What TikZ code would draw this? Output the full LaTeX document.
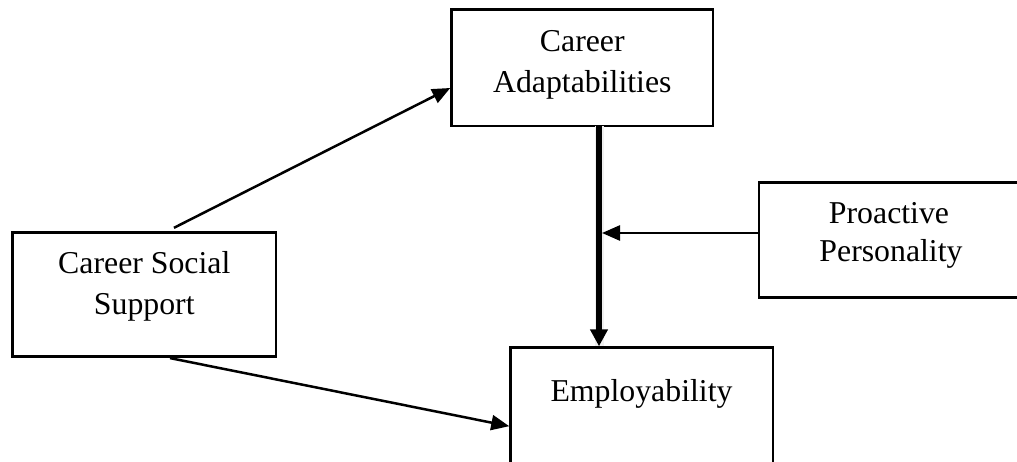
\documentclass[tikz,border=0pt]{standalone}
\usepackage{fontspec}
\setmainfont{Liberation Serif}
\usetikzlibrary{arrows.meta,calc}
\begin{document}
\begin{tikzpicture}[x=1pt,y=-1pt,
  box/.style={draw, line width=2.8pt, rectangle, inner sep=0pt},
  txt/.style={font=\fontsize{31.8}{40}\selectfont, anchor=base, inner sep=0pt},
  arr/.style={line width=2.5pt, -{Triangle[length=18pt,width=15pt]}},
  bigarr/.style={line width=6pt, -{Triangle[length=17pt,width=17pt]}},
  glow/.style={line width=9pt, black!6}]
\useasboundingbox (0,0) rectangle (1017,462);
\fill[white] (0,0) rectangle (1017,462);

% boxes
\node[box, minimum width=261.3pt, minimum height=116.7pt] (ca)  at (582.3,67.6)  {};
\node[box, minimum width=263.3pt, minimum height=124pt]   (css) at (144.3,294.7) {};
\node[box, minimum width=264pt,   minimum height=115pt]   (pp)  at (891,240.2)   {};
\node[box, minimum width=262.3pt, minimum height=132pt]   (emp) at (641.8,413.7) {};

% texts
\node[txt] (caA)  at (582.3,51.5)  {Career};
\node[txt] (caB)  at (582.3,93)    {Adaptabilities};
\node[txt] (cssA) at (144.3,274)   {Career Social};
\node[txt] (cssB) at (144.3,315)   {Support};
\node[txt] (ppA)  at (889,223.3)   {Proactive};
\node[txt] (ppB)  at (891,261.7)   {Personality};
\node[txt] (empA) at (641.5,401.7) {Employability};

% connectors
\draw[arr] ($(css.north)+(29.7,-3.5)$) -- ($(ca.west)+(0,20.4)$);
\draw[arr] ($(css.south)+(25.7,0)$) -- ($(emp.west)+(0,12.5)$);

\coordinate (v1) at ($(ca.south)+(16.7,-1.4)$);
\coordinate (v2) at ($(emp.north)+(-42.8,0)$);
\draw[glow] (v1) -- (v2);
\draw[bigarr] (v1) -- (v2);

\coordinate (h1) at ($(pp.west)+(0,-7.2)$);
\draw[arr, shorten >=3pt] (h1) -- (h1 -| v1);
\end{tikzpicture}
\end{document}
